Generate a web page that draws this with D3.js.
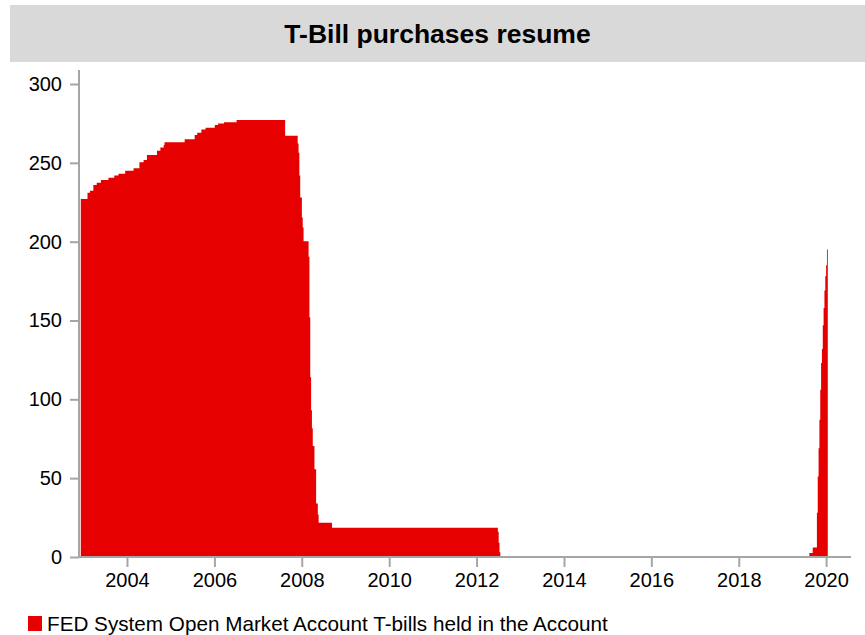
<!DOCTYPE html>
<html>
<head>
<meta charset="utf-8">
<script src="https://cdn.jsdelivr.net/npm/d3@7"></script>
<style>
  html, body { margin: 0; padding: 0; background: #ffffff; }
  svg { display: block; font-family: "Liberation Sans", Arial, sans-serif; }
</style>
</head>
<body>
<svg id="chart" width="865" height="635"></svg>
<script>
// Weekly SOMA T-bill holdings (USD bn), recorded at the weeks where the level changes.
const dates = [
  "2002-12-11","2003-02-05","2003-02-26","2003-03-26","2003-04-23","2003-05-28",
  "2003-07-30","2003-09-17","2003-10-22","2003-12-17","2004-02-25","2004-04-14",
  "2004-05-19","2004-06-16","2004-09-08","2004-10-06","2004-11-03","2004-11-10",
  "2005-04-27","2005-07-20","2005-08-10","2005-09-14","2005-10-19","2006-01-04",
  "2006-02-01","2006-03-22","2006-07-05","2007-08-15","2007-11-28","2007-12-05",
  "2007-12-12","2007-12-19","2008-01-02","2008-01-09","2008-01-16","2008-02-27",
  "2008-03-05","2008-03-12","2008-03-19","2008-03-26","2008-04-02","2008-04-16",
  "2008-04-30","2008-05-14","2008-05-21","2008-09-10","2012-06-27","2012-07-04",
  "2012-07-11","2012-07-18","2019-08-14","2019-09-11","2019-10-16","2019-10-23",
  "2019-10-30","2019-11-06","2019-11-13","2019-11-20","2019-11-27","2019-12-04",
  "2019-12-11","2019-12-18","2019-12-25","2020-01-01","2020-01-08","2020-01-15"
];
const values = [
  227, 231, 232.3, 236, 237.4, 239.1,
  240.6, 241.9, 243.1, 245, 246.5, 250.3,
  251.8, 255, 257.7, 259.8, 261.3, 263,
  265, 267.6, 269.1, 271.2, 272.2, 274,
  275, 275.7, 277.2, 267.2, 262.3, 256.4,
  242, 228, 215.4, 209, 200.3, 190.5,
  152, 114, 93, 81.6, 70.4, 55.6,
  34, 27, 21.8, 18.5, 16, 9,
  3, 0, 2.5, 6.1, 28, 51,
  69, 87, 106, 123, 132, 147,
  158, 169, 178, 185, 195, 195
];
const yTicks = [0, 50, 100, 150, 200, 250, 300];
const xTickYears = [2004, 2006, 2008, 2010, 2012, 2014, 2016, 2018, 2020];
const titleText = "T-Bill purchases resume";
const legendText = "FED System Open Market Account T-bills held in the Account";

const parse = d3.timeParse("%Y-%m-%d");
const data = dates.map((d, i) => ({ date: parse(d), value: values[i] }));

const svg = d3.select("#chart");
const W = 865;
const RED = "#e60000";
const GREY = "#a6a6a6";
const FONT = "'Liberation Sans', Arial, sans-serif";

// Title banner
svg.append("rect").attr("x", 10).attr("y", 5).attr("width", W - 10).attr("height", 57).attr("fill", "#d9d9d9");
svg.append("text").attr("x", (10 + W) / 2).attr("y", 43).attr("text-anchor", "middle")
  .attr("font-size", 26.5).attr("font-weight", "bold").attr("fill", "#000").text(titleText);

const plot = { left: 79, right: 851, top: 84, bottom: 557 };

const x = d3.scaleTime()
  .domain([parse("2002-11-26"), parse("2020-07-27")])
  .range([plot.left, plot.right]);
const y = d3.scaleLinear().domain([0, 300]).range([plot.bottom, plot.top]);

// Holdings area, stepped between weekly observations
const area = d3.area()
  .curve(d3.curveStepAfter)
  .x(d => x(d.date))
  .y0(y(0))
  .y1(d => y(d.value));

svg.append("path").datum(data).attr("d", area).attr("fill", RED);

// Y axis
const yAxis = svg.append("g").attr("transform", `translate(${plot.left},0)`)
  .call(d3.axisLeft(y).tickValues(yTicks).tickSize(9).tickPadding(8).tickFormat(d3.format("d")));
yAxis.select(".domain").remove();
yAxis.selectAll(".tick line").attr("stroke", GREY).attr("stroke-width", 2);
yAxis.selectAll(".tick text").attr("font-size", 20).attr("fill", "#000").attr("font-family", FONT);
svg.append("line").attr("x1", plot.left).attr("x2", plot.left)
  .attr("y1", 70).attr("y2", plot.bottom).attr("stroke", GREY).attr("stroke-width", 2);

// X axis
const xAxis = svg.append("g").attr("transform", `translate(0,${plot.bottom})`)
  .call(d3.axisBottom(x).tickValues(xTickYears.map(yr => new Date(yr, 0, 1)))
    .tickSize(10).tickPadding(6).tickFormat(d3.timeFormat("%Y")));
xAxis.select(".domain").remove();
xAxis.selectAll(".tick line").attr("stroke", GREY).attr("stroke-width", 2);
xAxis.selectAll(".tick text").attr("font-size", 20).attr("fill", "#000").attr("font-family", FONT);
svg.append("line").attr("x1", plot.left - 1).attr("x2", plot.right)
  .attr("y1", plot.bottom).attr("y2", plot.bottom).attr("stroke", GREY).attr("stroke-width", 2);

// Legend
svg.append("rect").attr("x", 28).attr("y", 616).attr("width", 14).attr("height", 15).attr("fill", RED);
svg.append("text").attr("x", 47).attr("y", 631).attr("font-size", 20.7).attr("fill", "#000").text(legendText);
</script>
</body>
</html>
